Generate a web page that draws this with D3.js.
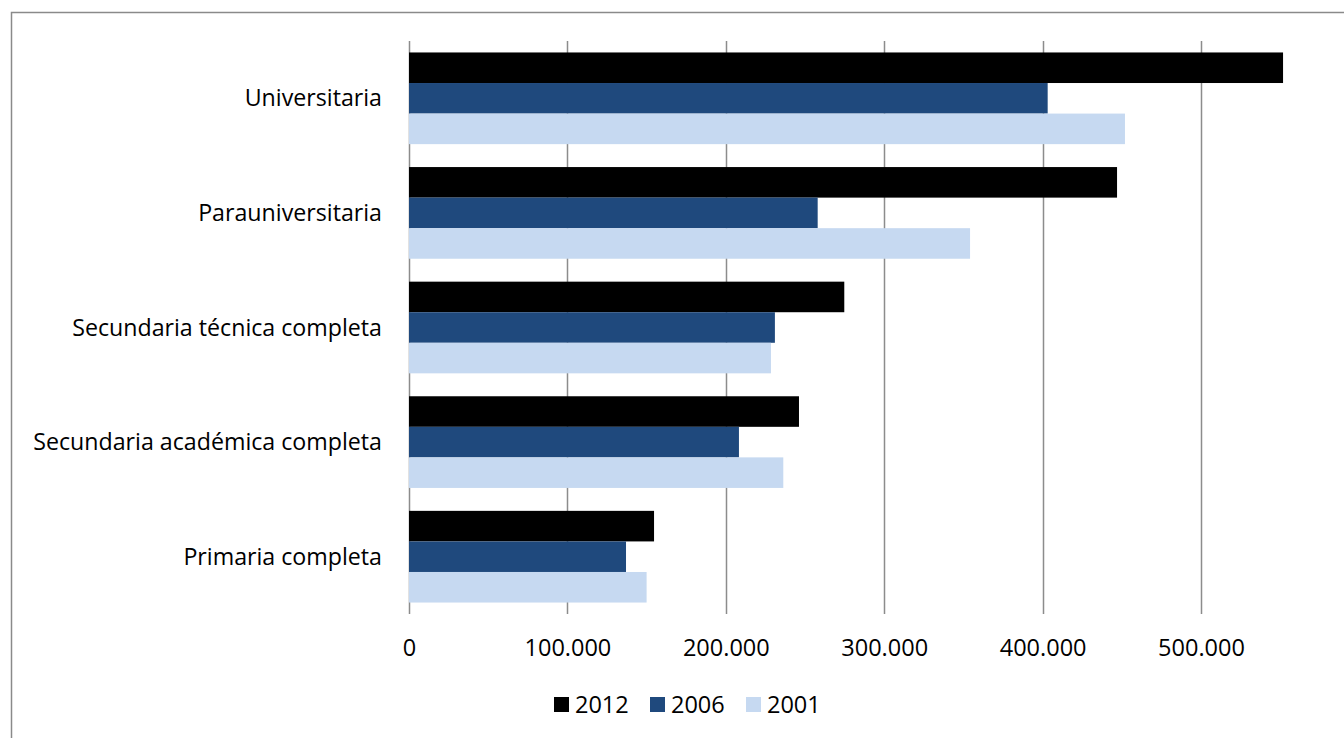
<!DOCTYPE html>
<html>
<head>
<meta charset="utf-8">
<script src="https://cdn.jsdelivr.net/npm/d3@7"></script>
<style>
  html, body { margin: 0; padding: 0; background: #fff; overflow: hidden; }
  svg { display: block; font-family: "Open Sans", Lato, sans-serif; }
</style>
</head>
<body>
<svg id="chart" width="1344" height="738"></svg>
<script>
// Education levels, top to bottom
const categories = [
  "Universitaria",
  "Parauniversitaria",
  "Secundaria técnica completa",
  "Secundaria académica completa",
  "Primaria completa"
];
// Series (years) in drawing order within each group
const years = ["2012", "2006", "2001"];
const values2012 = [551800, 447000, 274800, 246200, 154700];
const values2006 = [403200, 258000, 231000, 208300, 137000];
const values2001 = [452000, 354200, 228500, 236300, 150000];
// Labelled ticks; the axis itself runs to 600.000 past the right edge
const tickValues = [0, 100000, 200000, 300000, 400000, 500000];
const axisMax = 600000;
const colors = ["#000000", "#1F497D", "#C6D9F1"];

const seriesValues = { "2012": values2012, "2006": values2006, "2001": values2001 };
const rows = categories.map((c, i) => ({
  category: c,
  bars: years.map(y => ({ year: y, value: seriesValues[y][i] }))
}));

const svg = d3.select("#chart");
const W = 1344, H = 738;
const plot = { left: 409, top: 41, bottom: 614, right: 1359.4 };

// Outer chart frame
svg.append("rect")
  .attr("x", 11.5).attr("y", 12.5)
  .attr("width", W).attr("height", H)
  .attr("fill", "none").attr("stroke", "#8a8a8a").attr("stroke-width", 1.5);

const x = d3.scaleLinear().domain([0, axisMax]).range([plot.left, plot.right]);
const y = d3.scaleBand().domain(categories).range([plot.top, plot.bottom])
  .paddingInner(0.2).paddingOuter(0.1);
const ySub = d3.scaleBand().domain(years).range([0, y.bandwidth()]);
const color = d3.scaleOrdinal().domain(years).range(colors);

// Vertical gridlines
svg.append("g")
  .selectAll("line")
  .data(tickValues)
  .join("line")
  .attr("x1", d => Math.round(x(d)) + 0.5)
  .attr("x2", d => Math.round(x(d)) + 0.5)
  .attr("y1", plot.top).attr("y2", plot.bottom)
  .attr("stroke", "#8c8c8c").attr("stroke-width", 1.5);

// Bars
const groups = svg.append("g")
  .selectAll("g")
  .data(rows)
  .join("g")
  .attr("transform", d => `translate(0,${y(d.category)})`);

groups.selectAll("rect")
  .data(d => d.bars)
  .join("rect")
  .attr("x", x(0))
  .attr("y", d => ySub(d.year))
  .attr("width", d => x(d.value) - x(0))
  .attr("height", ySub.bandwidth())
  .attr("fill", d => color(d.year));

// Category labels
svg.append("g")
  .selectAll("text")
  .data(categories)
  .join("text")
  .attr("x", 382)
  .attr("y", d => y(d) + y.bandwidth() / 2)
  .attr("dy", "0.35em")
  .attr("text-anchor", "end")
  .attr("font-size", 23.2)
  .attr("fill", "#000")
  .text(d => d);

// Value axis labels
const fmt = d => d === 0 ? "0" : d3.format(",")(d).replace(/,/g, ".");
const xAxis = d3.axisBottom(x).tickValues(tickValues).tickFormat(fmt).tickSize(0).tickPadding(0);
const axisG = svg.append("g")
  .attr("transform", `translate(0,${plot.bottom})`)
  .call(xAxis);
axisG.select(".domain").remove();
axisG.selectAll("text")
  .attr("y", 34)
  .attr("dy", "0.35em")
  .attr("font-size", 23.5)
  .attr("font-family", "'Open Sans', Lato, sans-serif")
  .attr("fill", "#000");

// Legend
const legendItems = [
  { year: "2012", x: 554 },
  { year: "2006", x: 650 },
  { year: "2001", x: 746 }
];
const lg = svg.append("g").selectAll("g").data(legendItems).join("g")
  .attr("transform", d => `translate(${d.x},697)`);
lg.append("rect")
  .attr("width", 15).attr("height", 15)
  .attr("fill", d => color(d.year));
lg.append("text")
  .attr("x", 21).attr("y", 8)
  .attr("dy", "0.35em")
  .attr("font-size", 23.5)
  .attr("fill", "#000")
  .text(d => d.year);
</script>
</body>
</html>
